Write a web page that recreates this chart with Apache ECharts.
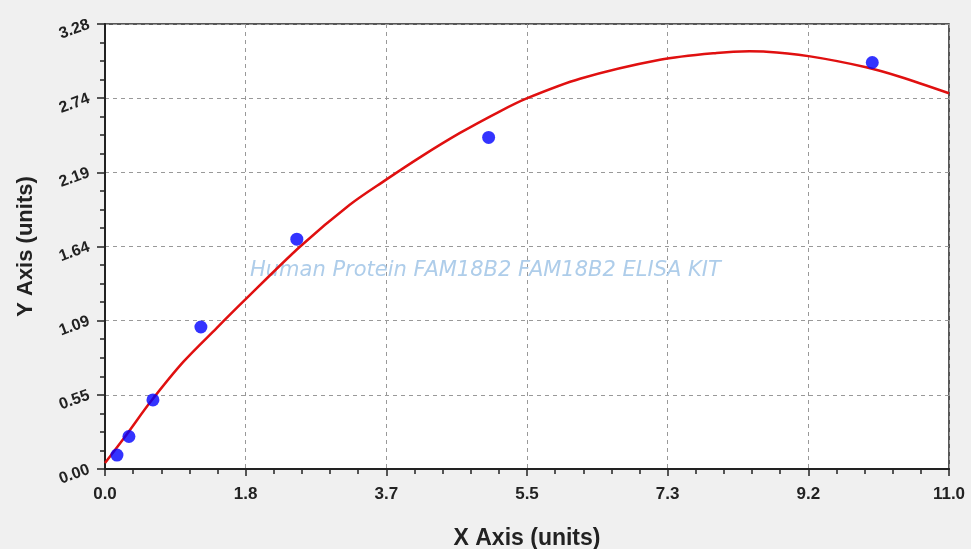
<!DOCTYPE html>
<html>
<head>
<meta charset="utf-8">
<script src="https://cdn.jsdelivr.net/npm/echarts@6/dist/echarts.min.js"></script>
<style>
html,body{margin:0;padding:0;background:#f0f0f0;}
#chart{width:971px;height:549px;}
</style>
</head>
<body>
<div id="chart"></div>
<script>
// Standard points (x = concentration, y = OD)
var pointX = [0.156, 0.312, 0.625, 1.25, 2.5, 5, 10];
var pointY = [0.103, 0.24, 0.51, 1.048, 1.696, 2.447, 3.0];

// Fitted curve
var curveX = [0, 0.283, 0.586, 1.02, 1.455, 1.81, 2.54, 3.19, 3.65, 4.105, 4.627, 5.148, 5.496, 6.19, 7.233, 7.97, 8.4, 8.62, 9.19, 9.92, 10.36, 11];
var curveY = [0.045, 0.255, 0.49, 0.79, 1.04, 1.24, 1.64, 1.95, 2.13, 2.30, 2.48, 2.64, 2.735, 2.88, 3.02, 3.07, 3.082, 3.08, 3.045, 2.965, 2.895, 2.773];

// Tick labels
var xTickLabels = ['0.0', '1.8', '3.7', '5.5', '7.3', '9.2', '11.0'];
var yTickLabels = ['0.00', '0.55', '1.09', '1.64', '2.19', '2.74', '3.28'];

var xMax = 11, yMax = 3.284;
var xInt = xMax / 6, yInt = yMax / 6;

var chart = echarts.init(document.getElementById('chart'));
var labelFont = 'Liberation Sans, Arial, sans-serif';

chart.setOption({
  backgroundColor: '#f0f0f0',
  animation: false,
  grid: {
    left: 105, top: 24, right: 22, bottom: 80,
    outerBoundsMode: 'none', containLabel: false,
    show: true, backgroundColor: '#ffffff', borderColor: '#222', borderWidth: 1.5
  },
  xAxis: {
    type: 'value', min: 0, max: xMax, interval: xInt,
    name: 'X Axis (units)', nameLocation: 'middle', nameGap: 58,
    nameTextStyle: { fontFamily: labelFont, fontWeight: 'bold', fontSize: 23, color: '#222' },
    axisLine: { show: true, onZero: false, lineStyle: { color: '#222', width: 2 } },
    axisTick: { show: true, length: 7, lineStyle: { color: '#222', width: 1.5 } },
    minorTick: { show: true, splitNumber: 5, length: 5, lineStyle: { color: '#222', width: 1.5 } },
    splitLine: { show: true, lineStyle: { color: '#999', type: [4, 4], width: 1 } },
    axisLabel: {
      margin: 17, fontFamily: labelFont, fontWeight: 'bold', fontSize: 17, color: '#222',
      formatter: function (v) { return xTickLabels[Math.round(v / xInt)]; }
    }
  },
  yAxis: {
    type: 'value', min: 0, max: yMax, interval: yInt,
    name: 'Y Axis (units)', nameLocation: 'middle', nameGap: 68,
    nameTextStyle: { fontFamily: labelFont, fontWeight: 'bold', fontSize: 22, color: '#222' },
    axisLine: { show: true, onZero: false, lineStyle: { color: '#222', width: 2 } },
    axisTick: { show: true, length: 8, lineStyle: { color: '#222', width: 1.5 } },
    minorTick: { show: true, splitNumber: 4, length: 5, lineStyle: { color: '#222', width: 1.5 } },
    splitLine: { show: true, lineStyle: { color: '#999', type: [4, 4], width: 1 } },
    axisLabel: {
      margin: 16, rotate: 20, padding: [10, 0, 0, 0],
      fontFamily: labelFont, fontWeight: 'bold', fontSize: 16, color: '#222',
      formatter: function (v) { return yTickLabels[Math.round(v / yInt)]; }
    }
  },
  graphic: [{
    type: 'text', left: 250, top: 260, silent: true, z: 1,
    style: {
      text: 'Human Protein FAM18B2 FAM18B2 ELISA KIT',
      fill: '#aecdea', font: 'italic 21px "DejaVu Sans", sans-serif'
    }
  }],
  series: [{
    type: 'line', smooth: 0.3, showSymbol: false,
    data: curveX.map(function (x, i) { return [x, curveY[i]]; }),
    lineStyle: { color: '#e01010', width: 2.5 }, z: 2
  }, {
    type: 'scatter', symbolSize: 13,
    data: pointX.map(function (x, i) { return [x, pointY[i]]; }),
    itemStyle: { color: '#0000ff' }, z: 3
  }]
});
</script>
</body>
</html>
